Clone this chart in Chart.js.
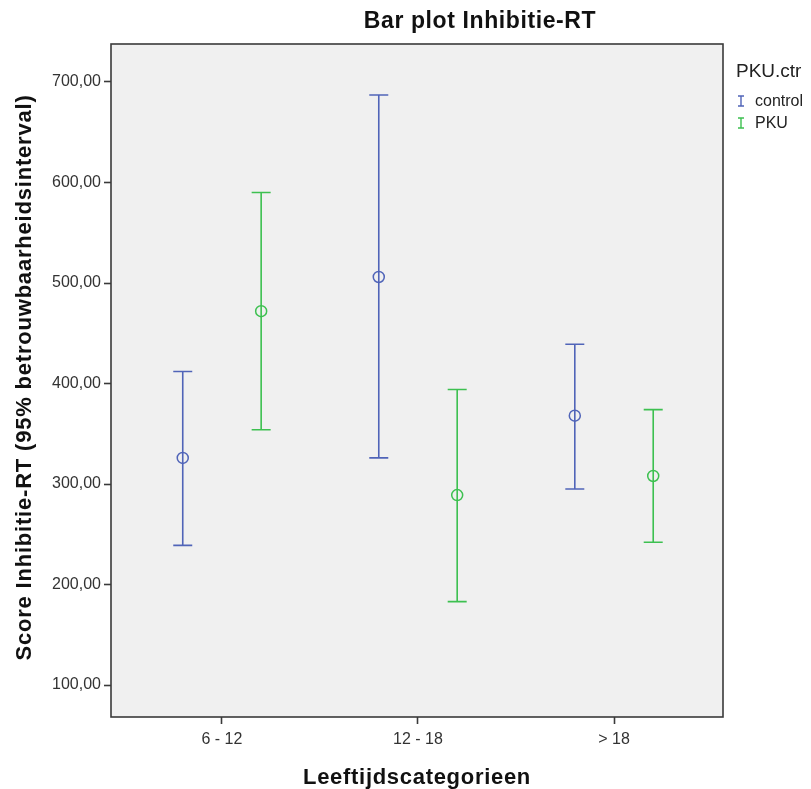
<!DOCTYPE html>
<html>
<head>
<meta charset="utf-8">
<script src="https://cdn.jsdelivr.net/npm/chart.js@4.4.0/dist/chart.umd.min.js"></script>
<style>
  html, body { margin: 0; padding: 0; background: #ffffff; }
  #wrap { width: 811px; height: 789px; }
</style>
</head>
<body>
<div id="wrap"><canvas id="c" width="811" height="789"></canvas></div>
<script>
// Age groups and the two participant groups
const categories = ['6 - 12', '12 - 18', '> 18'];
const groupNames = ['control', 'PKU'];

// Mean inhibition RT with 95% confidence interval bounds per age group
const controlMean  = [326, 506, 368];
const controlLower = [239, 326, 295];
const controlUpper = [412, 687, 439];
const pkuMean  = [472, 289, 308];
const pkuLower = [354, 183, 242];
const pkuUpper = [590, 394, 374];

const yTicks = [100, 200, 300, 400, 500, 600, 700];

const groupColors = ['#5064b8', '#3dc050'];
const groupOffset = [-0.2, 0.2];

function makeDataset(idx, means, lows, highs) {
  return {
    label: groupNames[idx],
    data: categories.map((c, i) => ({ x: i + groupOffset[idx], y: means[i] })),
    errLow: lows,
    errHigh: highs,
    borderColor: groupColors[idx],
    backgroundColor: 'rgba(0,0,0,0)',
    pointStyle: 'circle',
    pointRadius: 5.5,
    pointHoverRadius: 5.5,
    pointBorderWidth: 1.5,
    showLine: false
  };
}

// Plot background and frame
const framePlugin = {
  id: 'frame',
  beforeDraw(chart) {
    const { ctx, chartArea: a } = chart;
    ctx.save();
    ctx.fillStyle = '#f0f0f0';
    ctx.fillRect(a.left, a.top, a.right - a.left, a.bottom - a.top);
    ctx.restore();
  },
  afterDraw(chart) {
    const { ctx, chartArea: a } = chart;
    ctx.save();
    ctx.strokeStyle = '#3a3a3a';
    ctx.lineWidth = 1.6;
    ctx.strokeRect(a.left, a.top, a.right - a.left, a.bottom - a.top);
    ctx.restore();
  }
};

// Confidence interval whiskers with caps
const errorBarPlugin = {
  id: 'errorBars',
  beforeDatasetsDraw(chart) {
    const { ctx } = chart;
    const xs = chart.scales.x, ys = chart.scales.y;
    const capHalf = 9.5;
    ctx.save();
    chart.data.datasets.forEach(ds => {
      ctx.strokeStyle = ds.borderColor;
      ctx.lineWidth = 1.6;
      ds.data.forEach((p, i) => {
        const px = xs.getPixelForValue(p.x);
        const yLo = ys.getPixelForValue(ds.errLow[i]);
        const yHi = ys.getPixelForValue(ds.errHigh[i]);
        ctx.beginPath();
        ctx.moveTo(px, yLo); ctx.lineTo(px, yHi);
        ctx.moveTo(px - capHalf, yLo); ctx.lineTo(px + capHalf, yLo);
        ctx.moveTo(px - capHalf, yHi); ctx.lineTo(px + capHalf, yHi);
        ctx.stroke();
      });
    });
    ctx.restore();
  }
};

// Title, axis titles and legend
const textPlugin = {
  id: 'texts',
  afterDraw(chart) {
    const { ctx, chartArea: a } = chart;
    ctx.save();
    ctx.fillStyle = '#111111';
    ctx.textBaseline = 'alphabetic';

    ctx.font = 'bold 23px "Liberation Sans", Arial, sans-serif';
    ctx.letterSpacing = '0.6px';
    ctx.textAlign = 'center';
    ctx.fillText('Bar plot Inhibitie-RT', 480, 28);

    ctx.font = 'bold 22px "Liberation Sans", Arial, sans-serif';
    ctx.letterSpacing = '0.7px';
    ctx.fillText('Leeftijdscategorieen', (a.left + a.right) / 2, 784);

    ctx.save();
    ctx.translate(31, (a.top + a.bottom) / 2 - 3);
    ctx.rotate(-Math.PI / 2);
    ctx.letterSpacing = '0.8px';
    ctx.fillText('Score Inhibitie-RT (95% betrouwbaarheidsinterval)', 0, 0);
    ctx.restore();

    // legend
    ctx.letterSpacing = '0px';
    ctx.textAlign = 'left';
    ctx.fillStyle = '#222222';
    ctx.font = '19px "Liberation Sans", Arial, sans-serif';
    ctx.fillText('PKU.ctr', 736, 77);
    ctx.font = '16px "Liberation Sans", Arial, sans-serif';
    ctx.textBaseline = 'middle';
    chart.data.datasets.forEach((ds, i) => {
      const cy = 101 + i * 22;
      ctx.strokeStyle = ds.borderColor;
      ctx.lineWidth = 1.4;
      ctx.beginPath();
      ctx.moveTo(741, cy - 5); ctx.lineTo(741, cy + 5);
      ctx.moveTo(738, cy - 5); ctx.lineTo(744, cy - 5);
      ctx.moveTo(738, cy + 5); ctx.lineTo(744, cy + 5);
      ctx.stroke();
      ctx.fillStyle = '#222222';
      ctx.fillText(ds.label, 755, cy + 1);
    });
    ctx.restore();
  }
};

new Chart(document.getElementById('c'), {
  type: 'scatter',
  data: {
    datasets: [
      makeDataset(0, controlMean, controlLower, controlUpper),
      makeDataset(1, pkuMean, pkuLower, pkuUpper)
    ]
  },
  options: {
    responsive: false,
    animation: false,
    devicePixelRatio: 1,
    layout: { padding: { left: 0, right: 88, top: 44, bottom: 0 } },
    plugins: {
      legend: { display: false },
      title: { display: false },
      tooltip: { enabled: false }
    },
    scales: {
      x: {
        type: 'linear',
        min: -0.566,
        max: 2.556,
        afterBuildTicks: s => { s.ticks = categories.map((c, i) => ({ value: i })); },
        afterFit: s => { s.height = 72; },
        ticks: {
          callback: v => categories[Math.round(v)],
          font: { family: '"Liberation Sans", Arial, sans-serif', size: 16 },
          color: '#333333',
          padding: 6,
          maxRotation: 0
        },
        grid: { drawOnChartArea: false, drawTicks: true, tickLength: 7, tickColor: '#3a3a3a', tickWidth: 1.6 },
        border: { display: false }
      },
      y: {
        type: 'linear',
        min: 68.2,
        max: 737.8,
        afterBuildTicks: s => { s.ticks = yTicks.map(v => ({ value: v })); },
        afterFit: s => { s.width = 111; },
        ticks: {
          callback: v => v.toFixed(2).replace('.', ','),
          font: { family: '"Liberation Sans", Arial, sans-serif', size: 16 },
          color: '#333333',
          padding: 3
        },
        grid: { drawOnChartArea: false, drawTicks: true, tickLength: 7, tickColor: '#3a3a3a', tickWidth: 1.6 },
        border: { display: false }
      }
    }
  },
  plugins: [framePlugin, errorBarPlugin, textPlugin]
});
</script>
</body>
</html>
